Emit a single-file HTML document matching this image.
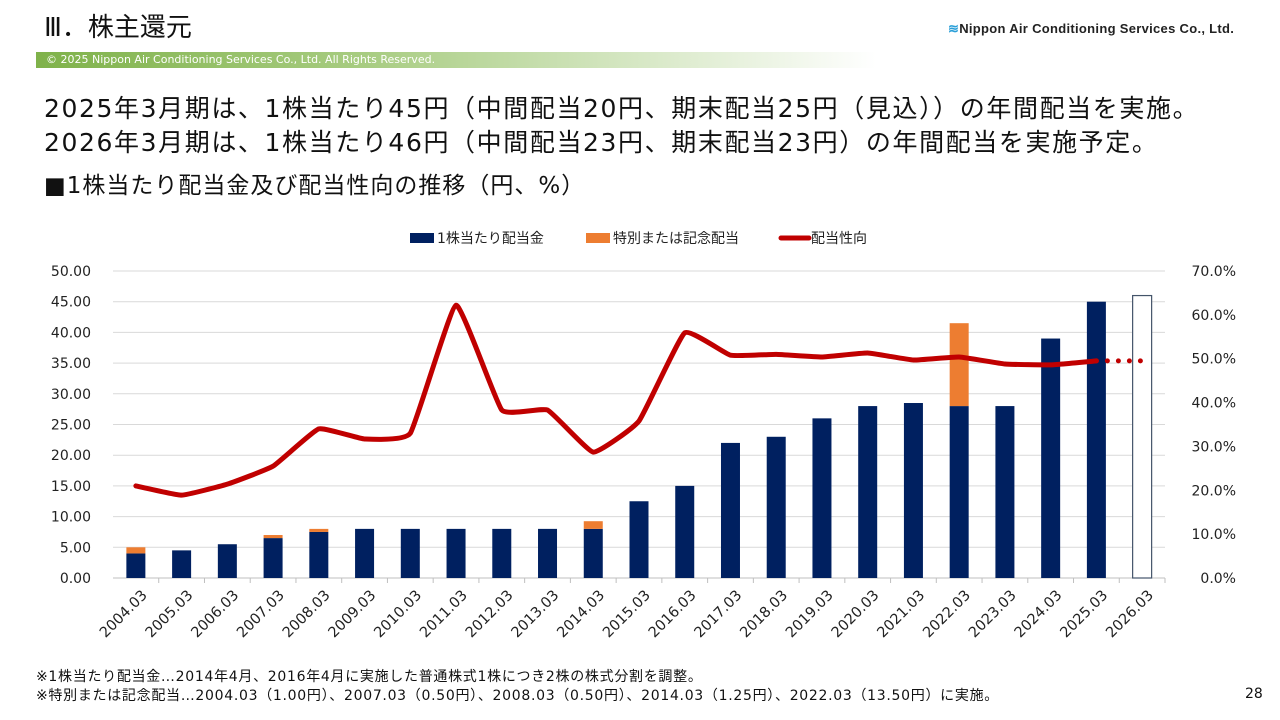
<!DOCTYPE html>
<html><head><meta charset="utf-8">
<style>
body{margin:0;width:1280px;height:720px;overflow:hidden;background:#fff;font-family:"DejaVu Sans","Noto Sans CJK JP",sans-serif;}
.abs{position:absolute;white-space:nowrap;}
</style></head>
<body>
<div class="abs" style="left:44px;top:7px;font-size:26px;color:#111;">Ⅲ．株主還元</div>
<div class="abs" style="left:948px;top:21px;font-size:13px;font-family:'Liberation Sans',sans-serif;font-weight:bold;color:#222;letter-spacing:0.3px;"><span style="color:#2a9fd8;">≋</span>Nippon Air Conditioning Services Co., Ltd.</div>
<div class="abs" style="left:36px;top:52px;width:840px;height:16px;background:linear-gradient(90deg,#7fb24a 0%,#a9cd83 40%,#ffffff 100%);"></div>
<div class="abs" style="left:46px;top:53px;font-size:11px;color:#fff;">© 2025 Nippon Air Conditioning Services Co., Ltd. All Rights Reserved.</div>
<div class="abs" style="left:44px;top:89px;font-size:25px;letter-spacing:1.6px;color:#111;">2025年3月期は、1株当たり45円（中間配当20円、期末配当25円（見込））の年間配当を実施。</div>
<div class="abs" style="left:44px;top:123px;font-size:25px;letter-spacing:1.6px;color:#111;">2026年3月期は、1株当たり46円（中間配当23円、期末配当23円）の年間配当を実施予定。</div>
<div class="abs" style="left:44px;top:166px;font-size:23px;letter-spacing:1px;color:#111;">■1株当たり配当金及び配当性向の推移（円、%）</div>
<div class="abs" style="left:36px;top:666px;font-size:14px;letter-spacing:0.7px;color:#111;">※1株当たり配当金…2014年4月、2016年4月に実施した普通株式1株につき2株の株式分割を調整。</div>
<div class="abs" style="left:36px;top:685px;font-size:14px;letter-spacing:0.7px;color:#111;">※特別または記念配当…2004.03（1.00円）、2007.03（0.50円）、2008.03（0.50円）、2014.03（1.25円）、2022.03（13.50円）に実施。</div>
<div class="abs" style="left:1245px;top:686px;font-size:14px;color:#111;">28</div>
<svg id="chart" width="1280" height="720" style="position:absolute;left:0;top:0;" font-family="DejaVu Sans, Noto Sans CJK JP, sans-serif"></svg>
<script>
const categories=["2004.03","2005.03","2006.03","2007.03","2008.03","2009.03","2010.03","2011.03","2012.03","2013.03","2014.03","2015.03","2016.03","2017.03","2018.03","2019.03","2020.03","2021.03","2022.03","2023.03","2024.03","2025.03","2026.03"];
const dividend=[4,4.5,5.5,6.5,7.5,8,8,8,8,8,8,12.5,15,22,23,26,28,28.5,28,28,39,45,46];
const special=[1,0,0,0.5,0.5,0,0,0,0,0,1.25,0,0,0,0,0,0,0,13.5,0,0,0,0];
const payout=[21,18.9,21.4,25.5,34,31.7,33,62.2,38.3,38.3,28.7,35.8,55.9,50.8,51,50.4,51.3,49.7,50.4,48.8,48.6,49.5,49.5];
const leftTicks=["0.00","5.00","10.00","15.00","20.00","25.00","30.00","35.00","40.00","45.00","50.00"];
const rightTicks=["0.0%","10.0%","20.0%","30.0%","40.0%","50.0%","60.0%","70.0%"];
const NS="http://www.w3.org/2000/svg";
const svg=document.getElementById('chart');
const L=113,R=1165,T=271,B=578;
const step=(R-L)/categories.length;
const x=i=>L+step*(i+0.5);
const yL=v=>B-(v/50)*(B-T);
const yR=v=>B-(v/70)*(B-T);
function mk(tag,attrs){const e=document.createElementNS(NS,tag);for(const k in attrs)e.setAttribute(k,attrs[k]);svg.appendChild(e);return e;}
leftTicks.forEach((t,i)=>{const v=parseFloat(t);const g=mk('line',{x1:L,x2:R,y1:yL(v),y2:yL(v),stroke:'#d9d9d9','stroke-width':1});


const tx=mk('text',{x:91,y:yL(v)+5,'text-anchor':'end','font-size':14,fill:'#222'});tx.textContent=t;

});
rightTicks.forEach(t=>{const v=parseFloat(t);const tx=mk('text',{x:1236,y:yR(v)+5,'text-anchor':'end','font-size':14,fill:'#222'});tx.textContent=t;

});
const ax=mk('line',{x1:L,x2:R,y1:B,y2:B,stroke:'#bfbfbf'});


const bw=19;
categories.forEach((c,i)=>{
 const tk=mk('line',{x1:L+step*(i+1),x2:L+step*(i+1),y1:B,y2:B+5,stroke:'#bfbfbf'});
 
 
 const last=i===categories.length-1;
 const b=mk('rect',{x:x(i)-bw/2,y:yL(dividend[i]),width:bw,height:B-yL(dividend[i]),fill:last?'#fff':'#002060',stroke:last?'#44546a':'none','stroke-width':1.2});
 
 
 if(special[i]>0){const s=mk('rect',{x:x(i)-bw/2,y:yL(dividend[i]+special[i]),width:bw,height:yL(dividend[i])-yL(dividend[i]+special[i]),fill:'#ed7d31'});
 
 }
 const tx=mk('text',{x:0,y:0,'text-anchor':'end','font-size':14.5,fill:'#222',transform:`translate(${x(i)+12},${B+18}) rotate(-45)`});tx.textContent=c;
 
 
});
const n=payout.length-1;
const pts=payout.slice(0,n).map((v,i)=>[x(i),yR(v)]);
let d=`M${pts[0][0]},${pts[0][1]}`;
for(let i=0;i<pts.length-1;i++){const p0=pts[Math.max(0,i-1)],p1=pts[i],p2=pts[i+1],p3=pts[Math.min(pts.length-1,i+2)];const k=0.06;
d+=` C${p1[0]+(p2[0]-p0[0])*k},${p1[1]+(p2[1]-p0[1])*k} ${p2[0]-(p3[0]-p1[0])*k},${p2[1]-(p3[1]-p1[1])*k} ${p2[0]},${p2[1]}`;}
const pl=mk('path',{d:d,fill:'none',stroke:'#c00000','stroke-width':5,'stroke-linejoin':'round','stroke-linecap':'round'});


const dl=mk('line',{x1:x(n-1),y1:yR(payout[n-1]),x2:x(n),y2:yR(payout[n]),stroke:'#c00000','stroke-width':5,'stroke-dasharray':'0 11','stroke-linecap':'round'});


const lg=[[410,'rect','#002060','1株当たり配当金'],[586,'rect','#ed7d31','特別または記念配当'],[781,'line','#c00000','配当性向']];
lg.forEach(([lx,t,c,lab])=>{
 let m;
 if(t==='rect')m=mk('rect',{x:lx,y:233,width:24,height:10,fill:c});
 else m=mk('line',{x1:lx,x2:lx+28,y1:238,y2:238,stroke:c,'stroke-width':5,'stroke-linecap':'round'});
 
 
 const tx=mk('text',{x:lx+(t==='rect'?27:30),y:243,'font-size':14,fill:'#222'});tx.textContent=lab;
 
 
});
</script>
</body></html>
